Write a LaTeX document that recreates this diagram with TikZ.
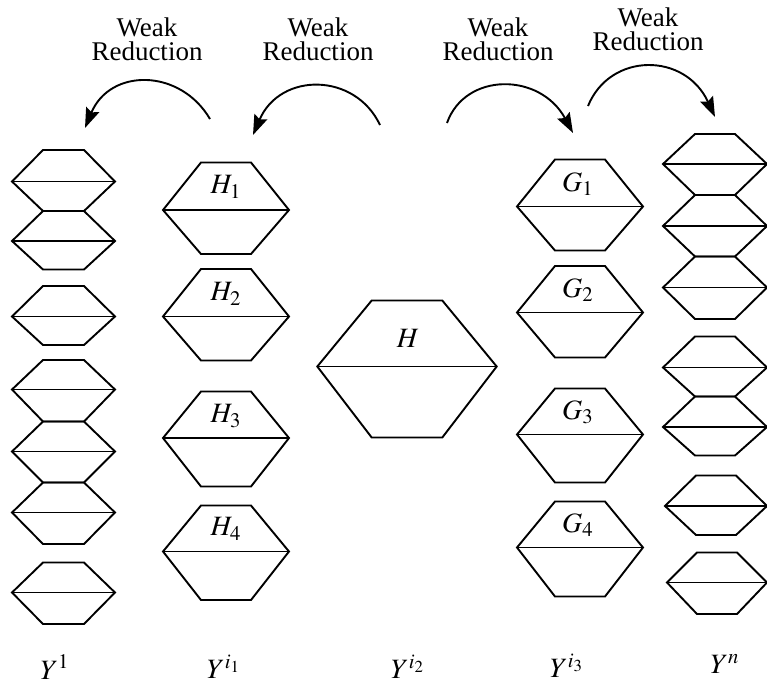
\documentclass[tikz,border=0pt]{standalone}
\usepackage{mathptmx}
\usepackage[no-math]{fontspec}
\setmainfont{Liberation Serif}
\newfontfamily\captfont{Liberation Serif}
\usetikzlibrary{arrows.meta}

% one hexagon split by a horizontal line:
% centre x, half width, half top width, top y, middle y, bottom y
\newcommand{\hexcell}[6]{%
  \draw[hexline] (#1-#2,#5) -- (#1-#3,#4) -- (#1+#3,#4) -- (#1+#2,#5)
    -- (#1+#3,#6) -- (#1-#3,#6) -- cycle;
  \draw[hexline] (#1-#2,#5) -- (#1+#2,#5);
}

\begin{document}
\begin{tikzpicture}[x=0.5pt,y=-0.5pt,
  hexline/.style={line width=0.95pt,line join=miter},
  reduce/.style={line width=0.95pt,-{Stealth[length=10pt,width=7pt,inset=1.5pt]}},
  lbl/.style={font=\fontsize{14}{14}\selectfont,inner sep=0pt},
  wr/.style={font=\captfont\fontsize{13.5}{12}\selectfont,inner sep=0pt,align=center}]
\useasboundingbox (0,0) rectangle (767,682);

% column Y^1
\hexcell{63.5}{51.5}{20.5}{150}{181.5}{211}
\hexcell{63.5}{51.5}{20.5}{211}{241}{269.5}
\hexcell{63.5}{51.5}{20.5}{286}{316.5}{345}
\hexcell{63.5}{51.5}{20.5}{360}{389.5}{421.5}
\hexcell{63.5}{51.5}{20.5}{421.5}{451.5}{482.5}
\hexcell{63.5}{51.5}{20.5}{482.5}{512.5}{544}
\hexcell{63.5}{51.5}{20.5}{562.5}{592.5}{624}

% column Y^{i_1}
\hexcell{226}{63}{25}{162.5}{210}{254}
\hexcell{226}{63}{25}{269}{316.5}{360.5}
\hexcell{226}{63}{25}{391.5}{438}{486.5}
\hexcell{226}{63}{25}{505.5}{551.5}{600}
\node[lbl] (h1) at (226,187) {$H_1$};
\node[lbl] (h2) at (226,294) {$H_2$};
\node[lbl] (h3) at (226,416) {$H_3$};
\node[lbl] (h4) at (226,529) {$H_4$};

% column Y^{i_2}
\hexcell{407}{89.7}{35.3}{300.5}{366.5}{437.5}
\node[lbl] (h) at (408,338) {$H$};

% column Y^{i_3}
\hexcell{580}{63}{25}{159.5}{206.5}{250.5}
\hexcell{580}{63}{25}{266}{312.5}{357.5}
\hexcell{580}{63}{25}{388.5}{434.5}{482.5}
\hexcell{580}{63}{25}{501.5}{547.5}{596.5}
\node[lbl] (g1) at (578,184) {$G_1$};
\node[lbl] (g2) at (578,290) {$G_2$};
\node[lbl] (g3) at (578,412) {$G_3$};
\node[lbl] (g4) at (578,525) {$G_4$};

% column Y^n
\hexcell{715}{52}{20}{134}{164}{195}
\hexcell{715}{52}{20}{195}{226}{256.5}
\hexcell{715}{52}{20}{256.5}{287.5}{319}
\hexcell{715}{52}{20}{336.5}{367.5}{396.5}
\hexcell{715}{52}{20}{396.5}{427}{455.5}
\hexcell{716}{51}{20}{475.5}{506}{535}
\hexcell{717}{50}{20}{552.5}{582.5}{614}

% column names
\node[lbl] (y1) at (55,667) {$Y^1$};
\node[lbl] (yi1) at (224,667) {$Y^{i_1}$};
\node[lbl] (yi2) at (408,667) {$Y^{i_2}$};
\node[lbl] (yi3) at (567,666) {$Y^{i_3}$};
\node[lbl] (yn) at (725,664) {$Y^n$};

% reduction arrows
\node[wr] (w1) at (147,39) {Weak\\Reduction};
\node[wr] (w2) at (318,39) {Weak\\Reduction};
\node[wr] (w3) at (498,39) {Weak\\Reduction};
\node[wr] (w4) at (648,29) {Weak\\Reduction};
\coordinate (a1) at (210,119);
\coordinate (b1) at (85,128);
\coordinate (a2) at (380,125);
\coordinate (b2) at (253,135);
\coordinate (a3) at (447,123);
\coordinate (b3) at (573,133);
\coordinate (a4) at (588,106);
\coordinate (b4) at (715,117);
\draw[reduce] (a1) .. controls (180,68) and (110,68) .. (b1);
\draw[reduce] (a2) .. controls (355,72) and (280,72) .. (b2);
\draw[reduce] (a3) .. controls (465,72) and (540,72) .. (b3);
\draw[reduce] (a4) .. controls (610,52) and (685,52) .. (b4);
\end{tikzpicture}
\end{document}
